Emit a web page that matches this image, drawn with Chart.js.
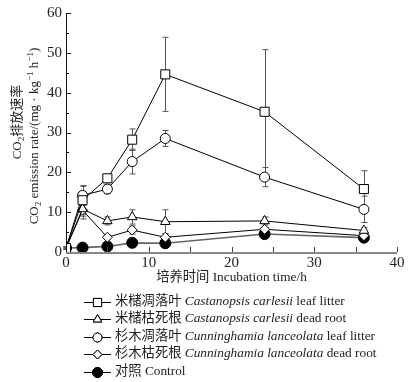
<!DOCTYPE html>
<html><head><meta charset="utf-8">
<script src="https://cdn.jsdelivr.net/npm/chart.js@4/dist/chart.umd.min.js"></script>
<style>html,body{margin:0;padding:0;background:#fff}canvas{display:block}</style>
</head><body>
<canvas id="c" width="408" height="382"></canvas>
<script>
// ---- data ----
const hours = [0, 2, 5, 8, 12, 24, 36];
const ccLeaf    = [1.0, 13.0, 18.5, 28.2, 44.6, 35.2, 15.8];
const ccLeafErr = [0.3, 3.5, 0.6, 2.7, 9.3, 15.6, 4.6];
const ccRoot    = [1.0, 10.8, 7.8, 8.8, 7.6, 7.8, 5.4];
const ccRootErr = [0.3, 2.5, 1.0, 1.8, 3.0, 1.0, 0.7];
const clLeaf    = [1.0, 14.2, 15.8, 22.7, 28.5, 18.8, 10.7];
const clLeafErr = [0.3, 2.5, 1.2, 3.1, 2.0, 2.4, 3.3];
const clRoot    = [1.0, 10.5, 3.7, 5.5, 3.7, 5.7, 4.1];
const clRootErr = [0.3, 1.5, 0.5, 1.0, 0.8, 0.5, 0.5];
const control    = [1.0, 1.1, 1.4, 2.3, 2.2, 4.5, 3.6];
const controlErr = [0.2, 0.2, 0.3, 0.3, 0.3, 0.5, 0.5];
const xTicks = [0, 10, 20, 30, 40];
const yTicks = [0, 10, 20, 30, 40, 50, 60];

const legendRows = [
  [{t:'米槠凋落叶 '},{t:'Castanopsis carlesii',i:1},{t:' leaf litter'}],
  [{t:'米槠枯死根 '},{t:'Castanopsis carlesii',i:1},{t:' dead root'}],
  [{t:'杉木凋落叶 '},{t:'Cunninghamia lanceolata',i:1},{t:' leaf litter'}],
  [{t:'杉木枯死根 '},{t:'Cunninghamia lanceolata',i:1},{t:' dead root'}],
  [{t:'对照 Control'}]
];
const xTitle = [{t:'培养时间 Incubation time/h'}];
const yTitle1 = [{t:'CO'},{t:'2',sub:1},{t:'排放速率'}];
const yTitle2 = [{t:'CO'},{t:'2',sub:1},{t:' emission rate/(mg · kg'},{t:'−1',sup:1},{t:' h'},{t:'−1',sup:1},{t:')'}];

const FAM = '"Liberation Serif", "Noto Sans CJK SC", serif';
const mk = (arr) => arr.map((v, k) => ({x: hours[k], y: v}));

const series = [
  {data: ccLeaf, err: ccLeafErr, style: 'rect', r: 6.4, fill: '#fff', line: '#000', lw: 1},
  {data: ccRoot, err: ccRootErr, style: 'triangle', r: 5.5, fill: '#fff', line: '#000', lw: 1},
  {data: clLeaf, err: clLeafErr, style: 'circle', r: 5, fill: '#fff', line: '#000', lw: 1},
  {data: clRoot, err: clRootErr, style: 'rectRot', r: 5, fill: '#fff', line: '#000', lw: 1},
  {data: control, err: controlErr, style: 'circle', r: 5.5, fill: '#000', line: '#666', lw: 1.6}
];

function richWidth(ctx, segs, size) {
  let w = 0;
  for (const s of segs) {
    const sz = (s.sub || s.sup) ? size * 0.7 : size;
    ctx.font = (s.i ? 'italic ' : '') + sz + 'px ' + FAM;
    w += ctx.measureText(s.t).width;
  }
  return w;
}
function drawRich(ctx, segs, x, y, size) {
  let cx = x;
  ctx.textBaseline = 'middle';
  ctx.textAlign = 'left';
  for (const s of segs) {
    const sz = (s.sub || s.sup) ? size * 0.7 : size;
    ctx.font = (s.i ? 'italic ' : '') + sz + 'px ' + FAM;
    const dy = s.sub ? size * 0.28 : (s.sup ? -size * 0.32 : 0);
    ctx.fillText(s.t, cx, y + dy);
    cx += ctx.measureText(s.t).width;
  }
}

const decor = {
  id: 'decor',
  beforeDatasetsDraw(chart) {
    const ctx = chart.ctx, xs = chart.scales.x, ys = chart.scales.y;
    ctx.save();
    // error bars
    ctx.strokeStyle = '#555';
    ctx.lineWidth = 1;
    series.forEach(s => {
      s.data.forEach((v, k) => {
        const e = s.err[k];
        const px = Math.round(xs.getPixelForValue(hours[k])) + 0.5;
        const t = ys.getPixelForValue(v + e), b = ys.getPixelForValue(Math.max(0, v - e));
        ctx.beginPath();
        ctx.moveTo(px, t); ctx.lineTo(px, b);
        ctx.moveTo(px - 3, t); ctx.lineTo(px + 3, t);
        ctx.moveTo(px - 3, b); ctx.lineTo(px + 3, b);
        ctx.stroke();
      });
    });
    ctx.restore();
  },
  afterDraw(chart) {
    const ctx = chart.ctx, xs = chart.scales.x, ys = chart.scales.y, a = chart.chartArea;
    ctx.save();
    // axes
    ctx.strokeStyle = '#111';
    ctx.lineWidth = 1;
    ctx.beginPath();
    ctx.moveTo(a.left + 0.5, a.top); ctx.lineTo(a.left + 0.5, a.bottom);
    ctx.stroke();
    // y ticks (inward), every 5
    for (let v = 0; v <= 60; v += 5) {
      const py = Math.round(ys.getPixelForValue(v)) + 0.5;
      const len = v % 10 === 0 ? 5 : 3;
      ctx.beginPath(); ctx.moveTo(a.left, py); ctx.lineTo(a.left + len, py); ctx.stroke();
    }
    // x ticks (inward), every 5
    ctx.strokeStyle = '#444';
    for (let v = 5; v <= 40; v += 5) {
      const px = Math.round(xs.getPixelForValue(v)) + 0.5;
      ctx.beginPath(); ctx.moveTo(px, a.bottom); ctx.lineTo(px, a.bottom - 5); ctx.stroke();
    }
    ctx.strokeStyle = '#888';
    ctx.lineWidth = 2;
    ctx.beginPath(); ctx.moveTo(a.left, a.bottom + 1); ctx.lineTo(a.right, a.bottom + 1); ctx.stroke();

    ctx.fillStyle = '#222';
    // x title
    const xw = richWidth(ctx, xTitle, 13.3);
    drawRich(ctx, xTitle, (a.left + a.right) / 2 - xw / 2, 278, 13.3);
    // y titles
    ctx.save();
    ctx.translate(18, 122); ctx.rotate(-Math.PI / 2);
    drawRich(ctx, yTitle1, -richWidth(ctx, yTitle1, 13) / 2, 0, 13);
    ctx.restore();
    ctx.save();
    ctx.translate(35, 136); ctx.rotate(-Math.PI / 2);
    drawRich(ctx, yTitle2, -richWidth(ctx, yTitle2, 13) / 2, 0, 13);
    ctx.restore();

    // legend
    legendRows.forEach((row, i) => {
      const s = series[i];
      const y = 301.5 + i * 17.5;
      ctx.strokeStyle = '#000';
      ctx.lineWidth = 1;
      ctx.beginPath(); ctx.moveTo(84, Math.round(y) + 0.5); ctx.lineTo(111, Math.round(y) + 0.5); ctx.stroke();
      ctx.fillStyle = s.fill;
      ctx.strokeStyle = '#000';
      Chart.helpers.drawPoint(ctx, {pointStyle: s.style, radius: s.r * 0.9, borderWidth: 1, rotation: 0}, 97.5, Math.round(y) + 0.5);
      ctx.fill(); ctx.stroke();
      ctx.fillStyle = '#222';
      drawRich(ctx, row, 115, y, 13.3);
    });
    ctx.restore();
  }
};

new Chart(document.getElementById('c'), {
  type: 'line',
  data: {
    datasets: series.map(s => ({
      data: mk(s.data),
      borderColor: s.line,
      borderWidth: s.lw,
      pointStyle: s.style,
      pointRadius: s.r,
      pointBackgroundColor: s.fill,
      pointBorderColor: '#000',
      pointBorderWidth: 1,
      tension: 0,
      fill: false
    }))
  },
  options: {
    responsive: false,
    animation: false,
    events: [],
    layout: {padding: {left: 0, top: 9, right: 11, bottom: 100}},
    plugins: {legend: {display: false}, tooltip: {enabled: false}},
    scales: {
      x: {
        type: 'linear', min: 0, max: 40,
        grid: {display: false, drawTicks: false},
        border: {display: false},
        afterBuildTicks: sc => { sc.ticks = xTicks.map(v => ({value: v})); },
        ticks: {font: {family: FAM, size: 15}, color: '#222', padding: 2, maxRotation: 0},
        afterFit: sc => { sc.height = 30; }
      },
      y: {
        min: 0, max: 60,
        grid: {display: false, drawTicks: false},
        border: {display: false},
        afterBuildTicks: sc => { sc.ticks = yTicks.map(v => ({value: v})); },
        ticks: {font: {family: FAM, size: 15}, color: '#222', padding: 4},
        afterFit: sc => { sc.width = 66; }
      }
    }
  },
  plugins: [decor]
});
</script>
</body></html>
